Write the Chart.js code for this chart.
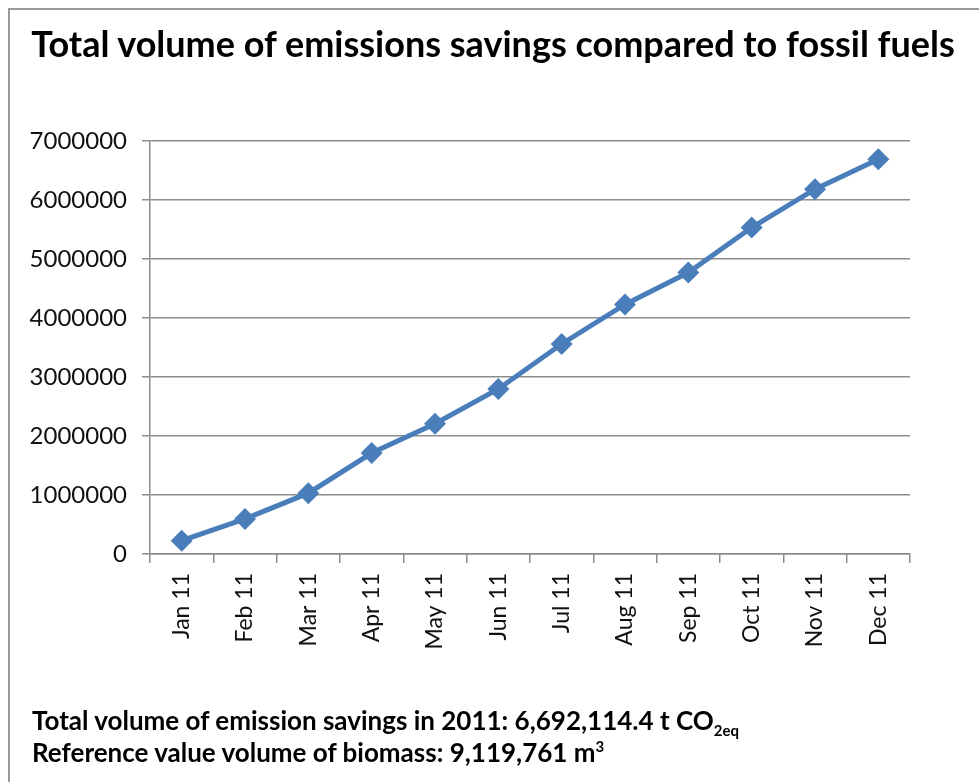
<!DOCTYPE html>
<html>
<head>
<meta charset="utf-8">
<script src="https://cdn.jsdelivr.net/npm/chart.js@4"></script>
<style>
  html, body { margin: 0; padding: 0; background: #fff; }
  #wrap { position: relative; width: 979px; height: 782px; overflow: hidden; }
  #frame { position: absolute; left: 8px; top: 8px; width: 1000px; height: 800px;
           border-left: 2px solid #999; border-top: 2px solid #999; }
  #chart { position: absolute; left: 0; top: 0; }
  .txt { position: absolute; font-family: Lato, sans-serif; font-weight: bold; color: #000; white-space: nowrap; }
  #title { left: 0; width: 986px; top: 21px; text-align: center; font-size: 36px; line-height: 44px; }
  #notes { left: 32px; top: 704px; font-size: 26px; line-height: 32px; }
  #notes sub, #notes sup { font-size: 15px; line-height: 0; }
</style>
</head>
<body>
<div id="wrap">
  <div id="frame"></div>
  <canvas id="chart" width="979" height="782"></canvas>
  <div class="txt" id="title">Total volume of emissions savings compared to fossil fuels</div>
  <div class="txt" id="notes">
    Total volume of emission savings in 2011: 6,692,114.4 t CO<sub>2eq</sub><br>
    Reference value volume of biomass: 9,119,761 m<sup>3</sup>
  </div>
</div>
<script>
// monthly cumulative savings, t CO2eq
var months = ["Jan 11", "Feb 11", "Mar 11", "Apr 11", "May 11", "Jun 11",
              "Jul 11", "Aug 11", "Sep 11", "Oct 11", "Nov 11", "Dec 11"];
var savings = [226000, 595000, 1031000, 1711000, 2209000, 2798000,
               3560000, 4230000, 4770000, 5533000, 6184000, 6692114.4];
var yMax = 7000000;
var yStep = 1000000;

var gridColor = "#8c8c8c";
var lineColor = "#4A7EBB";

var ctx = document.getElementById("chart").getContext("2d");
new Chart(ctx, {
    type: "line",
    data: {
        labels: months,
        datasets: [{
            data: savings,
            borderColor: lineColor,
            backgroundColor: lineColor,
            borderWidth: 5,
            pointStyle: "rectRot",
            pointRadius: 11,
            pointBorderWidth: 0,
            tension: 0
        }]
    },
    options: {
        responsive: false,
        animation: false,
        layout: { padding: { top: 141, right: 69, left: 0, bottom: 0 } },
        plugins: {
            legend: { display: false },
            tooltip: { enabled: false }
        },
        scales: {
            x: {
                offset: true,
                afterFit: function (scale) { scale.height = 782 - 554; },
                grid: {
                    offset: true,
                    drawOnChartArea: false,
                    color: gridColor,
                    lineWidth: 1.5,
                    tickLength: 9
                },
                border: { color: gridColor, width: 1.5 },
                ticks: {
                    minRotation: 90,
                    maxRotation: 90,
                    autoSkip: false,
                    padding: 10,
                    color: "#111",
                    font: { family: "Lato", size: 23 }
                }
            },
            y: {
                min: 0,
                max: yMax,
                afterFit: function (scale) { scale.width = 150; },
                grid: {
                    color: gridColor,
                    lineWidth: 1.5,
                    tickLength: 8
                },
                border: { color: gridColor, width: 1.5 },
                ticks: {
                    stepSize: yStep,
                    padding: 15,
                    color: "#111",
                    font: { family: "Lato", size: 24 },
                    callback: function (v) { return String(v); }
                }
            }
        }
    }
});
</script>
</body>
</html>
